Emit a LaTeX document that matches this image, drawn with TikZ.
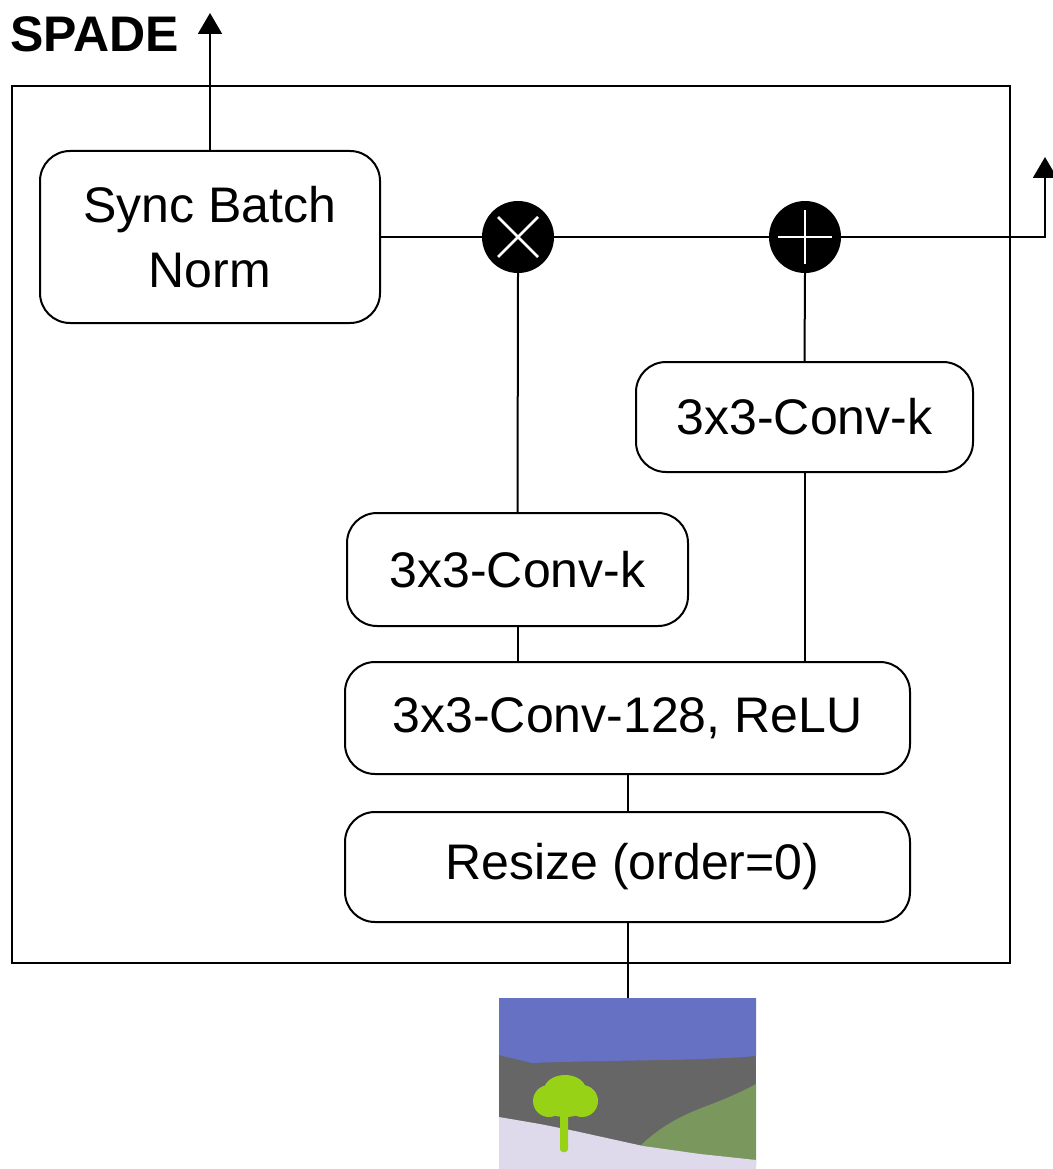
\documentclass[tikz,border=0pt]{standalone}
\usepackage{fontspec}
\setmainfont{Liberation Sans}
\usetikzlibrary{arrows.meta,calc}

\definecolor{skyblue}{RGB}{102,113,196}
\definecolor{rockgray}{RGB}{102,102,102}
\definecolor{groundlav}{RGB}{222,218,236}
\definecolor{hillgreen}{RGB}{122,152,94}
\definecolor{treelime}{RGB}{152,210,22}

\tikzset{
  blk/.style={draw, line width=2pt, rounded corners=30pt, align=center,
    inner sep=0pt, font=\fontsize{50}{65}\selectfont},
  opnode/.style={circle, fill=black, minimum size=72pt, inner sep=0pt},
  wire/.style={line width=2pt},
  outarrow/.style={line width=2pt, -{Triangle[length=21pt,width=24pt]}},
  glyph/.style={white, line width=2.6pt}
}

\begin{document}
\begin{tikzpicture}[x=1pt,y=-1pt]
  \useasboundingbox (0,0) rectangle (1052,1169);

  % title
  \node[anchor=west, inner sep=0pt, font=\fontsize{50}{52}\bfseries\selectfont] (title) at (10,34) {SPADE};

  % outer block frame
  \draw[line width=2.2pt] (12,86) rectangle (1010,963);

  % blocks
  \node[blk, minimum width=340pt, minimum height=172pt] (sbn) at (210,237) {Sync Batch\\Norm};
  \node[blk, minimum width=337pt, minimum height=110pt] (convR) at (804.5,417) {3x3-Conv-k};
  \node[blk, minimum width=341pt, minimum height=113pt] (convL) at (517.5,569.5) {3x3-Conv-k};
  \node[blk, minimum width=565pt, minimum height=112pt] (relu) at (627.5,718) {3x3-Conv-128, ReLU};
  \node[blk, minimum width=565pt, minimum height=110pt] (resize) at (627.5,867) {\hspace*{10pt}Resize (order=0)};

  % element-wise operators
  \node[opnode] (mul) at (518,237) {};
  \node[opnode] (add) at (805,237) {};
  \draw[glyph] ($(mul)+(-20,-20)$) -- ($(mul)+(20,20)$);
  \draw[glyph] ($(mul)+(-20,20)$) -- ($(mul)+(20,-20)$);
  \draw[glyph] ($(add)+(-27,0)$) -- ($(add)+(27,0)$);
  \draw[glyph] ($(add)+(0,-27)$) -- ($(add)+(0,27)$);

  % segmentation map input
  \node[minimum width=257pt, minimum height=171pt, inner sep=0pt] (seg) at (627.5,1083.5) {};
  \begin{scope}
    \clip (seg.north west) rectangle (seg.south east);
    \fill[rockgray] (499,1040) rectangle (756,1169);
    \fill[skyblue] (499,998) -- (756,998) -- (756,1056)
      .. controls (700,1061) and (600,1060) .. (532,1063) -- (499,1055) -- cycle;
    \fill[hillgreen] (640,1146) .. controls (665,1122) and (690,1112) .. (712,1104)
      .. controls (730,1097) and (745,1090) .. (756,1084) -- (756,1165) -- cycle;
    \fill[groundlav] (499,1117) -- (540,1124) -- (575,1131) -- (643,1146)
      -- (700,1154) -- (756,1160) -- (756,1170) -- (499,1170) -- cycle;
    % tree: trunk and bushy crown
    \fill[treelime, rounded corners=3pt] (560,1110) rectangle (568,1152);
    \fill[treelime] (565,1090) ellipse [x radius=21, y radius=15];
    \fill[treelime] (549,1101) circle [radius=16];
    \fill[treelime] (582,1101) circle [radius=16];
    \fill[treelime] (565,1104) ellipse [x radius=24, y radius=13];
  \end{scope}

  % connectors
  \coordinate (topout) at (210,13);
  \coordinate (rightout) at (1045,157);
  \draw[outarrow] (sbn.north) -- (topout);
  \draw[wire] (sbn.east) -- (mul.west);
  \draw[wire] (mul.east) -- (add.west);
  \draw[outarrow] (add.east) -| (rightout);
  \draw[wire] (mul.south) -- (convL.north);
  \draw[wire] (add.south) -- (convR.north);
  \draw[wire] (convL.south) -- (convL.south |- relu.north);
  \draw[wire] (convR.south) -- (convR.south |- relu.north);
  \draw[wire] (relu.south) -- (resize.north);
  \draw[wire] (resize.south) -- (seg.north);
\end{tikzpicture}
\end{document}
